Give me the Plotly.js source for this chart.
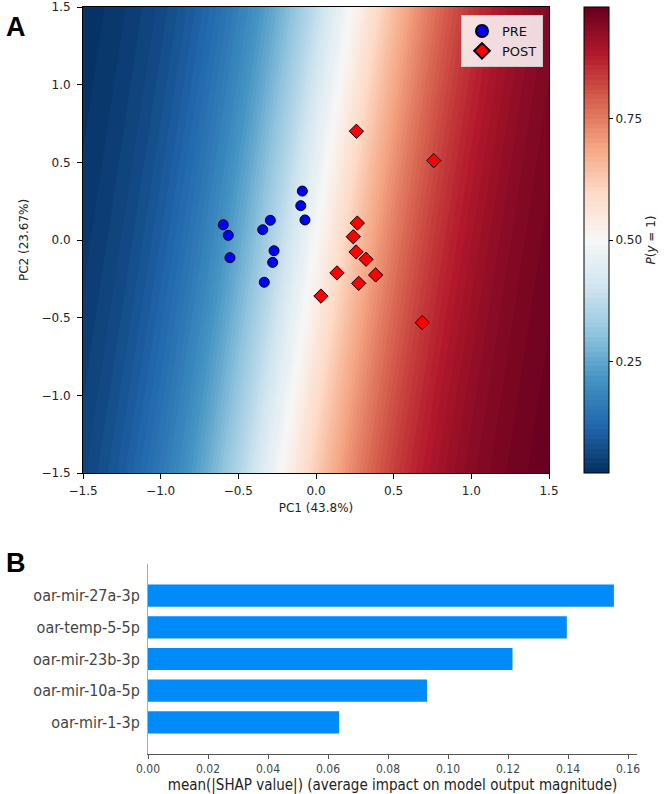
<!DOCTYPE html>
<html>
<head>
<meta charset="utf-8">
<script src="https://cdn.plot.ly/plotly-3.0.1.min.js"></script>
<style>html,body{margin:0;padding:0;background:#fff}</style>
</head>
<body>
<div id="chart" style="width:666px;height:794px"></div>
<script>
// PCA scores of the two sample groups
const preX  = [-0.088, -0.098, -0.071, -0.597, -0.294, -0.343, -0.565, -0.270, -0.554, -0.279, -0.333];
const preY  = [ 0.315,  0.221,  0.129,  0.098,  0.127,  0.066,  0.030, -0.069, -0.114, -0.144, -0.272];
const postX = [0.260, 0.758, 0.266, 0.240, 0.258, 0.322, 0.135, 0.384, 0.275, 0.032, 0.684];
const postY = [0.700, 0.511, 0.109, 0.021, -0.077, -0.124, -0.212, -0.225, -0.279, -0.361, -0.532];

// Fitted logistic regression on (PC1, PC2)
const coefPC1 = 2.19;
const coefPC2 = -0.33;
const intercept = 0.0;

// Colour-bar ticks
const cbTickVals = [0.25, 0.50, 0.75];
const cbTickText = ['0.25', '0.50', '0.75'];

// PCA axis ticks
const pcTickVals = [-1.5, -1.0, -0.5, 0.0, 0.5, 1.0, 1.5];
const pcTickText = ['\u22121.5', '\u22121.0', '\u22120.5', '0.0', '0.5', '1.0', '1.5'];

// SHAP global importance (bottom to top)
const features = ['oar-mir-1-3p', 'oar-mir-10a-5p', 'oar-mir-23b-3p', 'oar-temp-5-5p', 'oar-mir-27a-3p'];
const meanAbsShap = [0.0637, 0.0930, 0.1215, 0.1396, 0.1553];
const shapTickVals = [0.00, 0.02, 0.04, 0.06, 0.08, 0.10, 0.12, 0.14, 0.16];
const shapTickText = ['0.00', '0.02', '0.04', '0.06', '0.08', '0.10', '0.12', '0.14', '0.16'];

// Evaluate the model on a mesh over the plotted PC window
const nGrid = 151;
const gx = [], gy = [];
for (let i = 0; i < nGrid; i++) {
  gx.push(-1.5 + 3 * i / (nGrid - 1));
  gy.push(-1.5 + 3 * i / (nGrid - 1));
}
const gz = gy.map(y => gx.map(x => 1 / (1 + Math.exp(-(coefPC1 * x + coefPC2 * y + intercept)))));

// matplotlib RdBu_r
const rdbuR = [
  [0.0, '#053061'], [0.1, '#2166ac'], [0.2, '#4393c3'], [0.3, '#92c5de'],
  [0.4, '#d1e5f0'], [0.5, '#f7f7f7'], [0.6, '#fddbc7'], [0.7, '#f4a582'],
  [0.8, '#d6604d'], [0.9, '#b2182b'], [1.0, '#67001f']
];

const W = 666, H = 794;
const px = v => v / W;
const py = v => 1 - v / H;

const font = 'DejaVu Sans, Verdana, sans-serif';
const fontB = 'DejaVu Sans Condensed, DejaVu Sans, sans-serif';

const traces = [
  {
    type: 'contour', x: gx, y: gy, z: gz,
    xaxis: 'x', yaxis: 'y',
    colorscale: rdbuR, zmin: 0.02, zmax: 0.98,
    contours: {start: 0.02, end: 0.98, size: 0.01, coloring: 'fill', showlines: false},
    line: {width: 0},
    showlegend: false, hoverinfo: 'skip',
    colorbar: {
      x: px(584), xanchor: 'left', xpad: 0,
      y: py(240), yanchor: 'middle', ypad: 0,
      len: 466, lenmode: 'pixels',
      thickness: 25, thicknessmode: 'pixels',
      outlinewidth: 1, outlinecolor: '#000',
      ticks: 'outside', ticklen: 4, tickwidth: 1, tickcolor: '#000',
      tickvals: cbTickVals, ticktext: cbTickText,
      tickfont: {family: font, size: 12, color: '#222'},
      title: {text: '<i>P</i>(<i>y</i> = 1)', side: 'right', font: {family: font, size: 12, color: '#222'}}
    }
  },
  {
    type: 'scatter', mode: 'markers', name: 'PRE',
    x: preX, y: preY, xaxis: 'x', yaxis: 'y',
    marker: {symbol: 'circle', size: 10, color: '#0000ff', line: {color: '#000', width: 1}}
  },
  {
    type: 'scatter', mode: 'markers', name: 'POST',
    x: postX, y: postY, xaxis: 'x', yaxis: 'y',
    marker: {symbol: 'diamond', size: 11, color: '#ff0000', line: {color: '#000', width: 1}}
  },
  {
    type: 'bar', orientation: 'h',
    x: meanAbsShap, y: [0, 1, 2, 3, 4],
    xaxis: 'x2', yaxis: 'y2', width: 0.7,
    marker: {color: '#008bfb', line: {width: 0}},
    showlegend: false, hoverinfo: 'skip'
  }
];

const layout = {
  width: W, height: H,
  margin: {l: 0, r: 0, t: 0, b: 0},
  paper_bgcolor: '#fff', plot_bgcolor: '#fff',
  font: {family: font, size: 12, color: '#222'},
  showlegend: true,
  legend: {
    x: px(543), xanchor: 'right', y: py(15), yanchor: 'top',
    bgcolor: 'rgba(255,255,255,0.85)', bordercolor: '#cccccc', borderwidth: 1,
    font: {family: font, size: 13, color: '#111'},
    itemsizing: 'constant', tracegroupgap: 2
  },
  xaxis: {
    domain: [px(83), px(549)], range: [-1.5, 1.5], anchor: 'y',
    tickvals: pcTickVals, ticktext: pcTickText,
    ticks: 'outside', ticklen: 5, tickcolor: '#000', ticklabelstandoff: 2,
    showline: true, linecolor: '#000', linewidth: 1, mirror: true,
    showgrid: false, zeroline: false,
    tickfont: {family: font, size: 12, color: '#222'},
    title: {text: 'PC1 (43.8%)', standoff: 6, font: {family: font, size: 12, color: '#222'}}
  },
  yaxis: {
    domain: [py(473), py(7)], range: [-1.5, 1.5], anchor: 'x',
    tickvals: pcTickVals, ticktext: pcTickText,
    ticks: 'outside', ticklen: 5, tickcolor: '#000', ticklabelstandoff: 4,
    showline: true, linecolor: '#000', linewidth: 1, mirror: true,
    showgrid: false, zeroline: false,
    tickfont: {family: font, size: 12, color: '#222'},
    title: {text: 'PC2 (23.67%)', standoff: 10, font: {family: font, size: 12, color: '#222'}}
  },
  xaxis2: {
    domain: [px(148), px(637)], range: [0, 0.163], anchor: 'y2',
    tickvals: shapTickVals, ticktext: shapTickText,
    ticks: 'outside', ticklen: 4, tickcolor: '#555',
    showline: true, linecolor: '#555', linewidth: 1,
    showgrid: false, zeroline: false,
    tickfont: {family: fontB, size: 12, color: '#444'},
    title: {text: 'mean(|SHAP value|) (average impact on model output magnitude)', standoff: 3,
            font: {family: fontB, size: 15, color: '#222'}}
  },
  yaxis2: {
    domain: [py(754), py(564)], range: [-1, 5], anchor: 'x2',
    tickvals: [0, 1, 2, 3, 4], ticktext: features,
    ticks: '', showline: true, linecolor: '#aaa', linewidth: 1,
    showgrid: false, zeroline: false, ticklabelstandoff: 4,
    tickfont: {family: fontB, size: 16, color: '#444'}
  },
  annotations: [
    {text: '<b>A</b>', x: px(4), y: py(10), xref: 'paper', yref: 'paper', xanchor: 'left', yanchor: 'top',
     showarrow: false, font: {family: 'Liberation Sans, Arial, sans-serif', size: 27, color: '#000'}},
    {text: '<b>B</b>', x: px(4), y: py(546), xref: 'paper', yref: 'paper', xanchor: 'left', yanchor: 'top',
     showarrow: false, font: {family: 'Liberation Sans, Arial, sans-serif', size: 27, color: '#000'}}
  ]
};

Plotly.newPlot('chart', traces, layout, {displayModeBar: false, staticPlot: true});
</script>
</body>
</html>
